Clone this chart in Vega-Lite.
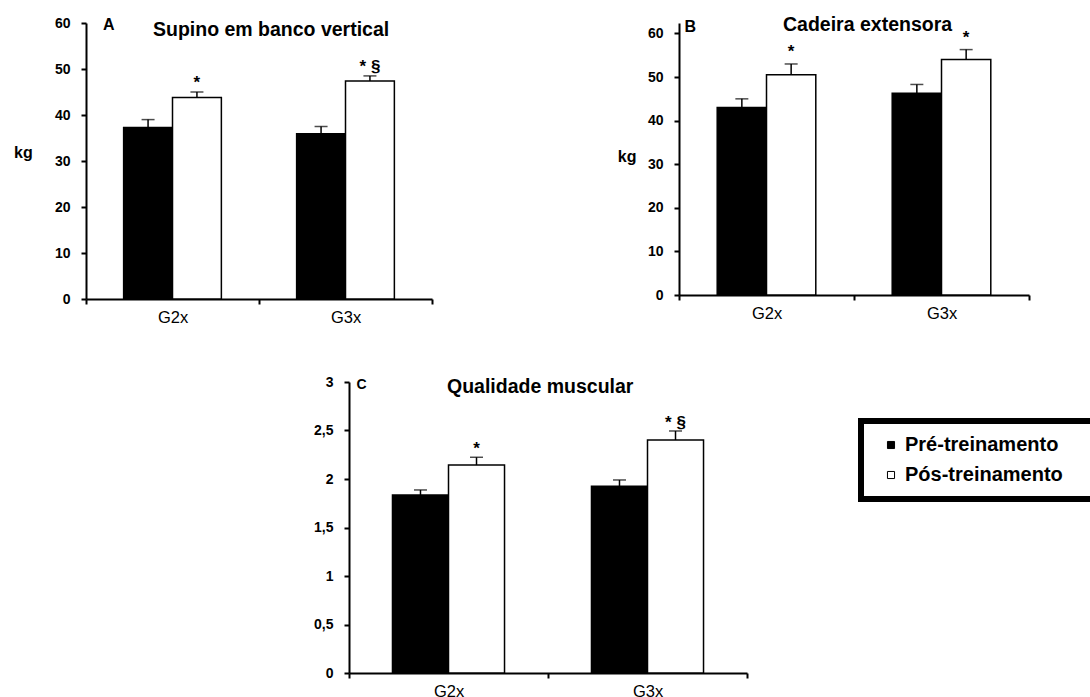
{
  "$schema": "https://vega.github.io/schema/vega-lite/v6.json",
  "padding": {"left": 13, "top": 14, "right": 0, "bottom": 0},
  "background": "white",
  "data": {"values": [
    {"panel": "A", "group": "G2x", "phase": "Pré-treinamento", "value": 37.3, "hi": 39.0, "note": ""},
    {"panel": "A", "group": "G2x", "phase": "Pós-treinamento", "value": 43.8, "hi": 45.0, "note": "*"},
    {"panel": "A", "group": "G3x", "phase": "Pré-treinamento", "value": 35.9, "hi": 37.5, "note": ""},
    {"panel": "A", "group": "G3x", "phase": "Pós-treinamento", "value": 47.4, "hi": 48.5, "note": "* §"},
    {"panel": "B", "group": "G2x", "phase": "Pré-treinamento", "value": 43.0, "hi": 45.0, "note": ""},
    {"panel": "B", "group": "G2x", "phase": "Pós-treinamento", "value": 50.5, "hi": 53.0, "note": "*"},
    {"panel": "B", "group": "G3x", "phase": "Pré-treinamento", "value": 46.3, "hi": 48.3, "note": ""},
    {"panel": "B", "group": "G3x", "phase": "Pós-treinamento", "value": 54.0, "hi": 56.3, "note": "*"},
    {"panel": "C", "group": "G2x", "phase": "Pré-treinamento", "value": 1.835, "hi": 1.887, "note": ""},
    {"panel": "C", "group": "G2x", "phase": "Pós-treinamento", "value": 2.144, "hi": 2.224, "note": "*"},
    {"panel": "C", "group": "G3x", "phase": "Pré-treinamento", "value": 1.925, "hi": 1.99, "note": ""},
    {"panel": "C", "group": "G3x", "phase": "Pós-treinamento", "value": 2.402, "hi": 2.495, "note": "* §"}
  ]},
  "bounds": "full",
  "spacing": 49,
  "resolve": {"scale": {"xOffset": "independent"}},
  "vconcat": [
    {
      "bounds": "flush",
      "spacing": 247,
      "resolve": {"scale": {"xOffset": "independent"}},
      "hconcat": [
        {
          "width": 346, "height": 276,
          "title": {"text": "Supino em banco vertical", "anchor": "start", "frame": "group", "dx": 67, "offset": -39, "baseline": "alphabetic"},
          "transform": [{"filter": "datum.panel === 'A'"}],
          "encoding": {
            "x": {"field": "group", "type": "nominal", "sort": ["G2x", "G3x"], "scale": {"paddingInner": 0, "paddingOuter": 0},
                  "axis": {"title": "A", "titleX": 16.5, "titleY": -269.7, "titleAlign": "left", "titleBaseline": "alphabetic", "titleAngle": 0, "titleFontSize": 16, "labelAngle": 0, "tickBand": "extent", "labelPadding": 5, "labelFontSize": 16.5, "labelFontWeight": "normal"}},
            "xOffset": {"field": "phase", "type": "nominal", "sort": ["Pré-treinamento", "Pós-treinamento"], "scale": {"paddingInner": 0, "paddingOuter": 0.77}}
          },
          "layer": [
            {"mark": {"type": "bar", "stroke": "black", "strokeWidth": 1.5},
             "encoding": {
               "y": {"field": "value", "type": "quantitative", "title": "kg", "scale": {"domain": [0, 60], "nice": false},
                     "axis": {"title": "kg", "titleFontSize": 16, "titleAngle": 0, "titleX": -72.5, "titleY": 134.5, "titleAlign": "left", "titleBaseline": "alphabetic", "values": [0, 10, 20, 30, 40, 50, 60]}},
               "fill": {"field": "phase", "type": "nominal", "scale": {"domain": ["Pré-treinamento", "Pós-treinamento"], "range": ["black", "white"]},
                        "legend": {"title": "\u00a0", "titleOrient": "right", "titlePadding": 30, "titleFontSize": 20, "orient": "none", "legendX": 775, "legendY": 398, "symbolType": "square", "symbolSize": 50, "symbolStrokeColor": "black", "symbolStrokeWidth": 1, "labelFont": "Liberation Sans", "labelFontSize": 20, "labelFontWeight": "bold", "labelColor": "black", "labelLimit": 500, "strokeColor": "black", "padding": 14, "rowPadding": 10, "symbolOffset": 6, "labelOffset": 4, "encode": {"legend": {"update": {"strokeWidth": {"value": 6}}}}}}
             }},
            {"mark": {"type": "rule", "strokeWidth": 1.5, "color": "black"},
             "encoding": {"y": {"field": "value", "type": "quantitative", "title": "kg"}, "y2": {"field": "hi"}}},
            {"mark": {"type": "tick", "thickness": 1.5, "size": 13, "color": "black"},
             "encoding": {"y": {"field": "hi", "type": "quantitative", "title": "kg"}}},
            {"transform": [{"filter": "datum.note !== ''"}],
             "mark": {"type": "text", "dy": -4, "fontSize": 17, "fontWeight": "bold", "baseline": "alphabetic", "color": "black"},
             "encoding": {"y": {"field": "hi", "type": "quantitative", "title": "kg"}, "text": {"field": "note"}}}
          ]
        },
        {
          "width": 350, "height": 272,
          "title": {"text": "Cadeira extensora", "anchor": "start", "frame": "group", "dx": 104, "offset": -32, "baseline": "alphabetic"},
          "transform": [{"filter": "datum.panel === 'B'"}],
          "encoding": {
            "x": {"field": "group", "type": "nominal", "sort": ["G2x", "G3x"], "scale": {"paddingInner": 0, "paddingOuter": 0},
                  "axis": {"title": "B", "titleX": 5, "titleY": -264, "titleAlign": "left", "titleBaseline": "alphabetic", "titleAngle": 0, "titleFontSize": 16, "labelAngle": 0, "tickBand": "extent", "labelPadding": 5, "labelFontSize": 16.5, "labelFontWeight": "normal"}},
            "xOffset": {"field": "phase", "type": "nominal", "sort": ["Pré-treinamento", "Pós-treinamento"], "scale": {"paddingInner": 0, "paddingOuter": 0.775}}
          },
          "layer": [
            {"mark": {"type": "bar", "stroke": "black", "strokeWidth": 1.5},
             "encoding": {
               "y": {"field": "value", "type": "quantitative", "title": "kg", "scale": {"domain": [0, 62.4], "nice": false},
                     "axis": {"title": "kg", "titleFontSize": 16, "titleAngle": 0, "titleX": -43, "titleY": 138, "titleAlign": "right", "titleBaseline": "alphabetic", "values": [0, 10, 20, 30, 40, 50, 60]}},
               "fill": {"field": "phase", "type": "nominal", "scale": {"domain": ["Pré-treinamento", "Pós-treinamento"], "range": ["black", "white"]},
                        "legend": {"title": "\u00a0", "titleOrient": "right", "titlePadding": 30, "titleFontSize": 20, "orient": "none", "legendX": 775, "legendY": 398, "symbolType": "square", "symbolSize": 50, "symbolStrokeColor": "black", "symbolStrokeWidth": 1, "labelFont": "Liberation Sans", "labelFontSize": 20, "labelFontWeight": "bold", "labelColor": "black", "labelLimit": 500, "strokeColor": "black", "padding": 14, "rowPadding": 10, "symbolOffset": 6, "labelOffset": 4, "encode": {"legend": {"update": {"strokeWidth": {"value": 6}}}}}}
             }},
            {"mark": {"type": "rule", "strokeWidth": 1.5, "color": "black"},
             "encoding": {"y": {"field": "value", "type": "quantitative", "title": "kg"}, "y2": {"field": "hi"}}},
            {"mark": {"type": "tick", "thickness": 1.5, "size": 13, "color": "black"},
             "encoding": {"y": {"field": "hi", "type": "quantitative", "title": "kg"}}},
            {"transform": [{"filter": "datum.note !== ''"}],
             "mark": {"type": "text", "dy": -7, "fontSize": 17, "fontWeight": "bold", "baseline": "alphabetic", "color": "black"},
             "encoding": {"y": {"field": "hi", "type": "quantitative", "title": "kg"}, "text": {"field": "note"}}}
          ]
        }
      ]
    },
    {
      "bounds": "flush",
      "spacing": 10,
      "resolve": {"scale": {"xOffset": "independent"}},
      "hconcat": [
        {
          "width": 253, "height": 10,
          "data": {"values": []},
          "mark": {"type": "text"},
          "encoding": {}
        },
        {
          "width": 398, "height": 291,
          "title": {"text": "Qualidade muscular", "anchor": "start", "frame": "group", "dx": 98, "offset": -37, "baseline": "alphabetic"},
          "transform": [{"filter": "datum.panel === 'C'"}],
          "encoding": {
            "x": {"field": "group", "type": "nominal", "sort": ["G2x", "G3x"], "scale": {"paddingInner": 0, "paddingOuter": 0},
                  "axis": {"title": "C", "titleX": 7, "titleY": -284.7, "titleAlign": "left", "titleBaseline": "alphabetic", "titleAngle": 0, "titleFontSize": 14, "labelAngle": 0, "tickBand": "extent", "labelPadding": 5, "labelFontSize": 16.5, "labelFontWeight": "normal"}},
            "xOffset": {"field": "phase", "type": "nominal", "sort": ["Pré-treinamento", "Pós-treinamento"], "scale": {"paddingInner": 0, "paddingOuter": 0.776}}
          },
          "layer": [
            {"mark": {"type": "bar", "stroke": "black", "strokeWidth": 1.5},
             "encoding": {
               "y": {"field": "value", "type": "quantitative", "title": null, "scale": {"domain": [0, 3], "nice": false},
                     "axis": {"title": null, "values": [0, 0.5, 1, 1.5, 2, 2.5, 3], "labelExpr": "replace(format(datum.value, '~g'), '.', ',')"}},
               "fill": {"field": "phase", "type": "nominal", "scale": {"domain": ["Pré-treinamento", "Pós-treinamento"], "range": ["black", "white"]},
                        "legend": {"title": "\u00a0", "titleOrient": "right", "titlePadding": 30, "titleFontSize": 20, "orient": "none", "legendX": 775, "legendY": 398, "symbolType": "square", "symbolSize": 50, "symbolStrokeColor": "black", "symbolStrokeWidth": 1, "labelFont": "Liberation Sans", "labelFontSize": 20, "labelFontWeight": "bold", "labelColor": "black", "labelLimit": 500, "strokeColor": "black", "padding": 14, "rowPadding": 10, "symbolOffset": 6, "labelOffset": 4, "encode": {"legend": {"update": {"strokeWidth": {"value": 6}}}}}}
             }},
            {"mark": {"type": "rule", "strokeWidth": 1.5, "color": "black"},
             "encoding": {"y": {"field": "value", "type": "quantitative", "title": null}, "y2": {"field": "hi"}}},
            {"mark": {"type": "tick", "thickness": 1.5, "size": 13, "color": "black"},
             "encoding": {"y": {"field": "hi", "type": "quantitative", "title": null}}},
            {"transform": [{"filter": "datum.note !== ''"}],
             "mark": {"type": "text", "dy": -3, "fontSize": 17, "fontWeight": "bold", "baseline": "alphabetic", "color": "black"},
             "encoding": {"y": {"field": "hi", "type": "quantitative", "title": null}, "text": {"field": "note"}}}
          ]
        }
      ]
    }
  ],
  "config": {
    "font": "Liberation Sans",
    "view": {"stroke": null},
    "axis": {"domainColor": "black", "domainWidth": 2, "tickColor": "black", "tickWidth": 2, "tickSize": 5, "labelColor": "black", "titleColor": "black", "labelFont": "Liberation Sans", "titleFont": "Liberation Sans", "labelFontSize": 14, "labelFontWeight": "bold", "titleFontSize": 15, "titleFontWeight": "bold", "labelPadding": 11, "grid": false},
    "title": {"font": "Liberation Sans", "fontSize": 19.5, "fontWeight": "bold", "color": "black"}
  }
}
